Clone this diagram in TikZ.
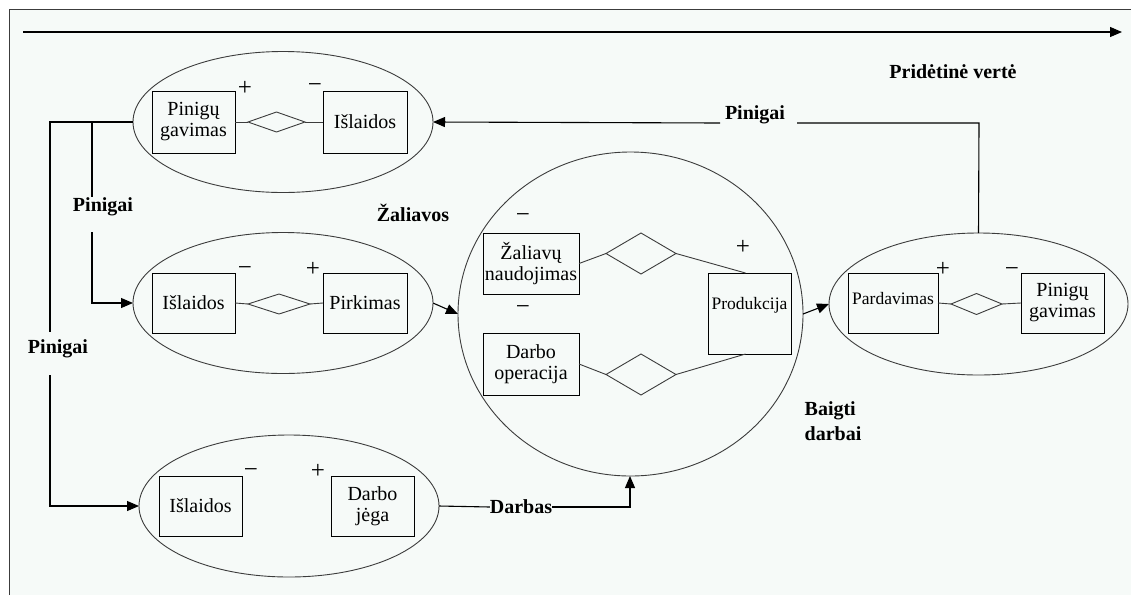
\documentclass[tikz,border=0pt]{standalone}
\usepackage{fontspec}
\setmainfont{Liberation Serif}
\usetikzlibrary{shapes.geometric,arrows.meta}
\definecolor{paper}{RGB}{246,250,248}
\definecolor{rim}{RGB}{60,60,60}
\begin{document}
\begin{tikzpicture}[x=1pt,y=-1pt,
  every node/.style={inner sep=0pt,outer sep=0pt},
  oval/.style={ellipse,draw=rim,line width=0.9pt},
  box/.style={rectangle,draw=black,line width=0.9pt,align=center,
    font=\fontsize{20}{21}\selectfont},
  smallbox/.style={box,font=\fontsize{17.5}{19}\selectfont},
  rel/.style={diamond,draw=rim,line width=0.9pt,aspect=1},
  sign/.style={font=\fontsize{25}{26}\selectfont},
  lbl/.style={font=\bfseries\fontsize{20}{25}\selectfont,align=left},
  link/.style={draw=black,line width=1.1pt},
  flow/.style={link,-{Triangle[length=12pt,width=10pt]}}]

% page and frame
\useasboundingbox (0,0) rectangle (1131,595);
\fill[white] (0,0) rectangle (1131,595);
\fill[paper] (9,9) rectangle (1131,595);
\draw[rim,line width=0.9pt] (9,595) -- (9,9) -- (1131,9);

% added-value axis
\coordinate (axisL) at (23,32);
\coordinate (axisR) at (1122,32);
\draw[flow] (axisL) -- (axisR);
\node[lbl] (pv) at (953,72) {Pridėtinė vertė};

% money receipt / spending
\node[oval,minimum width=300,minimum height=141] (e1) at (283,122) {};
\node[box,minimum width=83,minimum height=62] (a1) at (193.5,122) {Pinigų\\gavimas};
\node[box,minimum width=84,minimum height=62] (a2) at (365,122) {Išlaidos};
\node[rel,minimum width=57,minimum height=20] (d1) at (276.5,122) {};
\draw[rim,line width=0.9pt] (a1.east) -- (d1.west) (d1.east) -- (a2.west);
\node[sign] (s1) at (245,88) {+};
\node[sign] (s2) at (315,88) {\char"2212};

% purchasing
\node[oval,minimum width=300,minimum height=141] (e2) at (283,303) {};
\node[box,minimum width=83,minimum height=60] (b1) at (193.5,303) {Išlaidos};
\node[box,minimum width=84,minimum height=60] (b2) at (365,303) {Pirkimas};
\node[rel,minimum width=62,minimum height=20] (d2) at (279,304) {};
\draw[rim,line width=0.9pt] (b1.east) -- (d2.west) (d2.east) -- (b2.west);
\node[sign] (s3) at (245,271) {\char"2212};
\node[sign] (s4) at (313,269) {+};

% labour
\node[oval,minimum width=300,minimum height=142] (e3) at (289,506) {};
\node[box,minimum width=83,minimum height=60] (c1) at (200.5,506) {Išlaidos};
\node[box,minimum width=83,minimum height=60] (c2) at (372.5,506) {Darbo\\jėga};
\node[sign] (s5) at (251,473) {\char"2212};
\node[sign] (s6) at (318,471) {+};

% production
\node[oval,minimum width=345,minimum height=324] (pc) at (630.5,314) {};
\node[box,minimum width=96,minimum height=61] (f1) at (531,263.5) {Žaliavų\\naudojimas};
\node[box,minimum width=96,minimum height=62] (f2) at (531,364) {Darbo\\operacija};
\node[smallbox,minimum width=83,minimum height=81,text height=12pt,text depth=20pt] (f3) at (749.5,313.5) {Produkcija};
\node[rel,minimum width=70,minimum height=41] (g1) at (641,253.5) {};
\node[rel,minimum width=70,minimum height=41] (g2) at (641,374.5) {};
\draw[rim,line width=0.9pt] (f1.east) -- (g1.west) (g1.east) -- ([xshift=-4pt]f3.north);
\draw[rim,line width=0.9pt] (f2.east) -- (g2.west) (g2.east) -- ([xshift=-4pt]f3.south);
\node[sign] (s7) at (523,218) {\char"2212};
\node[sign] (s8) at (523,310) {\char"2212};
\node[sign] (s9) at (743,247) {+};

% sales
\node[oval,minimum width=299,minimum height=142] (e4) at (978.5,304) {};
\node[smallbox,minimum width=90,minimum height=60,text height=12pt,text depth=10pt] (h1) at (893,303) {Pardavimas};
\node[box,minimum width=83,minimum height=60] (h2) at (1062.5,303) {Pinigų\\gavimas};
\node[rel,minimum width=51,minimum height=21] (d4) at (976.5,304) {};
\draw[rim,line width=0.9pt] (h1.east) -- (d4.west) (d4.east) -- (h2.west);
\node[sign] (s10) at (943,269) {+};
\node[sign] (s11) at (1012,272) {\char"2212};

% flow labels
\node[lbl] (mtop) at (755,115) {Pinigai};
\node[lbl] (mmid) at (103,207) {Pinigai};
\node[lbl] (mlow) at (58,349) {Pinigai};
\node[lbl] (raw) at (413,213) {Žaliavos};
\node[lbl] (done) at (833,421) {Baigti\\darbai};
\node[lbl] (work) at (521,507) {Darbas};

% money split on the left
\coordinate (jL) at (50,122);
\coordinate (jM) at (92,122);
\coordinate (mmidT) at (92,197);
\coordinate (mmidB) at (92,232);
\coordinate (mlowT) at (50,332);
\coordinate (mlowB) at (50,375);
\draw[link] (e1.west) -- (jL) -- (mlowT);
\draw[link] (jM) -- (mmidT);
\draw[flow] (mmidB) |- (e2.west);
\draw[flow] (mlowB) |- (e3.west);

% materials and labour into production
\coordinate (pcW) at (458,314);
\draw[flow] (e2.east) -- (pcW);
\coordinate (pcS) at (630,476);
\draw[link] (e3.east) -- (work.west);
\draw[flow] (work.east) -| (pcS);

% finished work to sales
\coordinate (pcE) at (803,314);
\draw[flow] (pcE) -- (e4.west);

% money back from sales
\coordinate (rUp) at (979,123);
\coordinate (rGapR) at (797,123);
\coordinate (rGapL) at (720,123);
\draw[link] (e4.north) -- (rUp) -- (rGapR);
\draw[flow] (rGapL) -- (e1.east);
\end{tikzpicture}
\end{document}
